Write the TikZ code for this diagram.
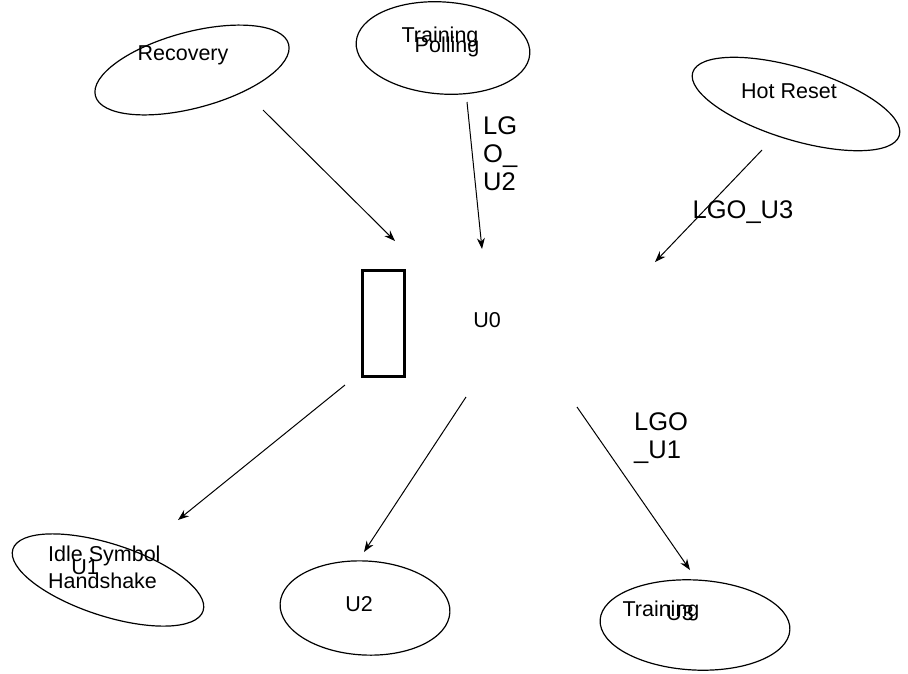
\documentclass[tikz,border=0pt]{standalone}
\usepackage{fontspec}
\setmainfont{Liberation Sans}
\usetikzlibrary{shapes.geometric,arrows.meta}
\begin{document}
\begin{tikzpicture}[x=1pt,y=-1pt,
  state/.style={draw,ellipse,line width=1.2pt,inner sep=0pt},
  txt/.style={font=\fontsize{21.5}{21.5}\selectfont,inner sep=0pt},
  lbl/.style={font=\fontsize{25.5}{28}\selectfont,inner sep=0pt,align=left},
  conn/.style={line width=1pt,-{Stealth[length=11pt,width=8pt]}}]
  \useasboundingbox (0,0) rectangle (908,673);

  % states
  \node[state,minimum width=200pt,minimum height=76pt,rotate=15] (recovery) at (192,70) {};
  \node[state,minimum width=174pt,minimum height=92pt,rotate=-4] (polling) at (443,48) {};
  \node[state,minimum width=216pt,minimum height=72pt,rotate=-17] (hotreset) at (796,104) {};
  \node[state,minimum width=200pt,minimum height=72pt,rotate=-18] (idle) at (108,580) {};
  \node[state,minimum width=170pt,minimum height=94pt,rotate=-3] (utwo) at (365,608) {};
  \node[state,minimum width=190pt,minimum height=90pt,rotate=-3] (uthree) at (695,625) {};

  % state texts
  \node[txt] (trecovery) at (183,55) {Recovery};
  \node[txt] (ttraining) at (440,37) {Training};
  \node[txt] (tpolling) at (447,47) {Polling};
  \node[txt] (thot) at (789,91) {Hot Reset};
  \node[txt,anchor=west] (tidle) at (48,556) {Idle Symbol};
  \node[txt,anchor=west] (thand) at (48,581) {Handshake};
  \node[txt] (tuone) at (85,567) {U1};
  \node[txt] (tutwo) at (359,604) {U2};
  \node[txt] (ttrain3) at (661,611) {Training};
  \node[txt] (tuthree) at (680,613) {U3};
  \node[txt] (tuzero) at (487,320) {U0};

  % U0 block
  \node[draw,line width=3pt,minimum width=42pt,minimum height=106pt,inner sep=0pt] (block) at (383.5,323.5) {};

  % transition labels
  \node[lbl,anchor=north west] (lgotwo) at (483,116) {LG\\O\_\\U2};
  \node[lbl] (lgothree) at (743,212) {LGO\_U3};
  \node[lbl,anchor=north west] (lgoone) at (634,412) {LGO\\\_U1};

  % connector end points
  \coordinate (a1) at (263,110);  \coordinate (b1) at (395,241);
  \coordinate (a2) at (467,102);  \coordinate (b2) at (482,249);
  \coordinate (a3) at (762,150);  \coordinate (b3) at (655,262);
  \coordinate (a4) at (345,385);  \coordinate (b4) at (178,520);
  \coordinate (a5) at (466,397);  \coordinate (b5) at (364,552);
  \coordinate (a6) at (577,407);  \coordinate (b6) at (690,570);

  \draw[conn] (a1) -- (b1);
  \draw[conn] (a2) -- (b2);
  \draw[conn] (a3) -- (b3);
  \draw[conn] (a4) -- (b4);
  \draw[conn] (a5) -- (b5);
  \draw[conn] (a6) -- (b6);
\end{tikzpicture}
\end{document}
